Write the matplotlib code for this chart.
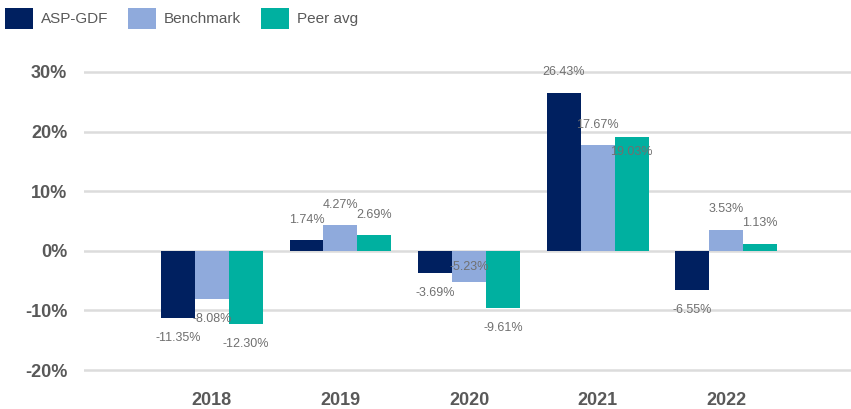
import matplotlib
matplotlib.use("Agg")
import matplotlib.pyplot as plt
import numpy as np

years = ["2018", "2019", "2020", "2021", "2022"]
series_names = ["ASP-GDF", "Benchmark", "Peer avg"]
asp_gdf = [-11.35, 1.74, -3.69, 26.43, -6.55]
benchmark = [-8.08, 4.27, -5.23, 17.67, 3.53]
peer_avg = [-12.30, 2.69, -9.61, 19.03, 1.13]
yticks = [-20, -10, 0, 10, 20, 30]

colors = ["#002060", "#8FAADC", "#00B0A0"]
# label offsets in pixels (positive = up)
label_offsets = [
    [-20, 20, -20, 21, -20],
    [-20, 20, 15, 20, 21],
    [-20, 20, -20, -15, 21],
]

plt.rcParams['font.family'] = ['Liberation Sans', 'DejaVu Sans']
DPI = 100
fig = plt.figure(figsize=(8.51, 4.09), dpi=DPI)
ax = fig.add_axes([84/851, 1-382/409, 1-84/851, (382-60)/409])

x = np.arange(len(years))
w = 0.264
data = [asp_gdf, benchmark, peer_avg]
handles = []
for i, (vals, name, c) in enumerate(zip(data, series_names, colors)):
    pos = x + (i - 1) * w
    bars = ax.bar(pos, vals, width=w, color=c, label=name, zorder=3)
    handles.append(bars)
    for xp, v, off in zip(pos, vals, label_offsets[i]):
        ax.annotate(f"{v:.2f}%", xy=(xp, v), xytext=(0, off * 72 / DPI),
                    textcoords="offset points", ha="center", va="center",
                    fontsize=9, color="#707070", zorder=4)

ax.set_ylim(-22, 32)
ax.set_xlim(-0.994, 4.97)
ax.set_yticks(yticks)
ax.set_yticklabels([f"{v}%" for v in yticks], fontsize=13, fontweight="bold", color="#595959")
ax.set_xticks(x)
ax.set_xticklabels(years, fontsize=13, fontweight="bold", color="#595959")
ax.tick_params(axis="both", length=0)
ax.tick_params(axis="y", pad=12)
ax.tick_params(axis="x", pad=7)
for s in ax.spines.values():
    s.set_visible(False)
ax.grid(axis="y", color="#DCDCDC", linewidth=1.8, zorder=0)
ax.set_axisbelow(True)

fig.legend(handles=handles, labels=series_names, loc="upper left",
           bbox_to_anchor=(5/851, 1-8/409), ncol=3, frameon=False,
           fontsize=11, handlelength=1.83, handleheight=1.7,
           handletextpad=0.52, columnspacing=1.3, borderpad=0,
           borderaxespad=0, labelcolor="#595959")

fig.savefig("out.png", dpi=DPI)
